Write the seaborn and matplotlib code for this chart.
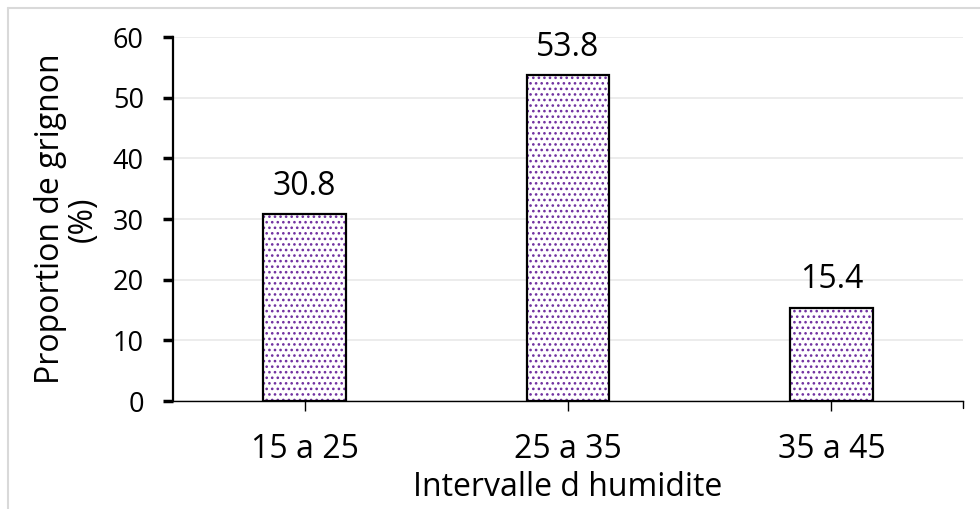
import matplotlib
matplotlib.use("Agg")
import matplotlib.pyplot as plt
import seaborn as sns
import pandas as pd
from matplotlib.lines import Line2D

categories = ["15 a 25", "25 a 35", "35 a 45"]
values = [30.8, 53.8, 15.4]
value_labels = ["30.8", "53.8", "15.4"]
yticks = [0, 10, 20, 30, 40, 50, 60]

df = pd.DataFrame({"cat": categories, "val": values})

sns.set_theme(style="white")
plt.rcParams['font.family'] = ['Open Sans', 'DejaVu Sans']
plt.rcParams['hatch.linewidth'] = 1.1

fig = plt.figure(figsize=(9.8, 5.09), dpi=100)
ax = fig.add_axes([173/980, 1-401/509, (963-173)/980, (401-37)/509])

# hatched fill (purple dots)
sns.barplot(data=df, x="cat", y="val", ax=ax, width=0.315, color="white",
            edgecolor="#7030A0", linewidth=0, hatch="...", zorder=2)
# black outline
sns.barplot(data=df, x="cat", y="val", ax=ax, width=0.315, fill=False,
            edgecolor="black", linewidth=1.6, zorder=3)

ax.set_xlim(-0.5, 2.5)
ax.set_ylim(0, 60)
ax.set_yticks(yticks)
ax.yaxis.grid(True, color="#e9e9e9", linewidth=1.2, zorder=0)
ax.set_axisbelow(True)

for s in ["top", "right"]:
    ax.spines[s].set_visible(False)
ax.spines["left"].set_color("black")
ax.spines["left"].set_linewidth(1.6)
ax.spines["bottom"].set_color("black")
ax.spines["bottom"].set_linewidth(1.0)

FS = 23
ax.tick_params(axis="y", direction="out", length=7, width=2.5, color="black",
               labelsize=19.5, pad=14, left=True)
ax.tick_params(axis="x", direction="out", length=7, width=1.0, color="black",
               labelsize=FS, pad=16, bottom=True)
ax.set_xticks([0, 1, 2])
ax.set_xticklabels(categories)
for t in ax.get_yticklabels() + ax.get_xticklabels():
    t.set_color("black")

# extra tick at right end of category axis
ax.add_line(Line2D([2.5, 2.5], [0, -0.018], transform=ax.get_xaxis_transform(),
                   color="black", linewidth=1.0, clip_on=False))

for i, (v, lab) in enumerate(zip(values, value_labels)):
    ax.annotate(lab, (i, v), xytext=(0, 8), textcoords="offset points",
                ha="center", va="bottom", fontsize=FS, color="black")

ax.set_xlabel("Intervalle d humidite", fontsize=FS, color="black", labelpad=4)
ax.set_ylabel("Proportion de grignon\n(%)", fontsize=FS, color="black",
              labelpad=9, linespacing=1.0)

# outer light border
fig.add_artist(Line2D([8/980, 1], [1-8/509, 1-8/509], transform=fig.transFigure,
                      color="#d9d9d9", linewidth=1.5))
fig.add_artist(Line2D([8/980, 8/980], [0, 1-8/509], transform=fig.transFigure,
                      color="#d9d9d9", linewidth=1.5))

fig.savefig("out.png", dpi=100)
